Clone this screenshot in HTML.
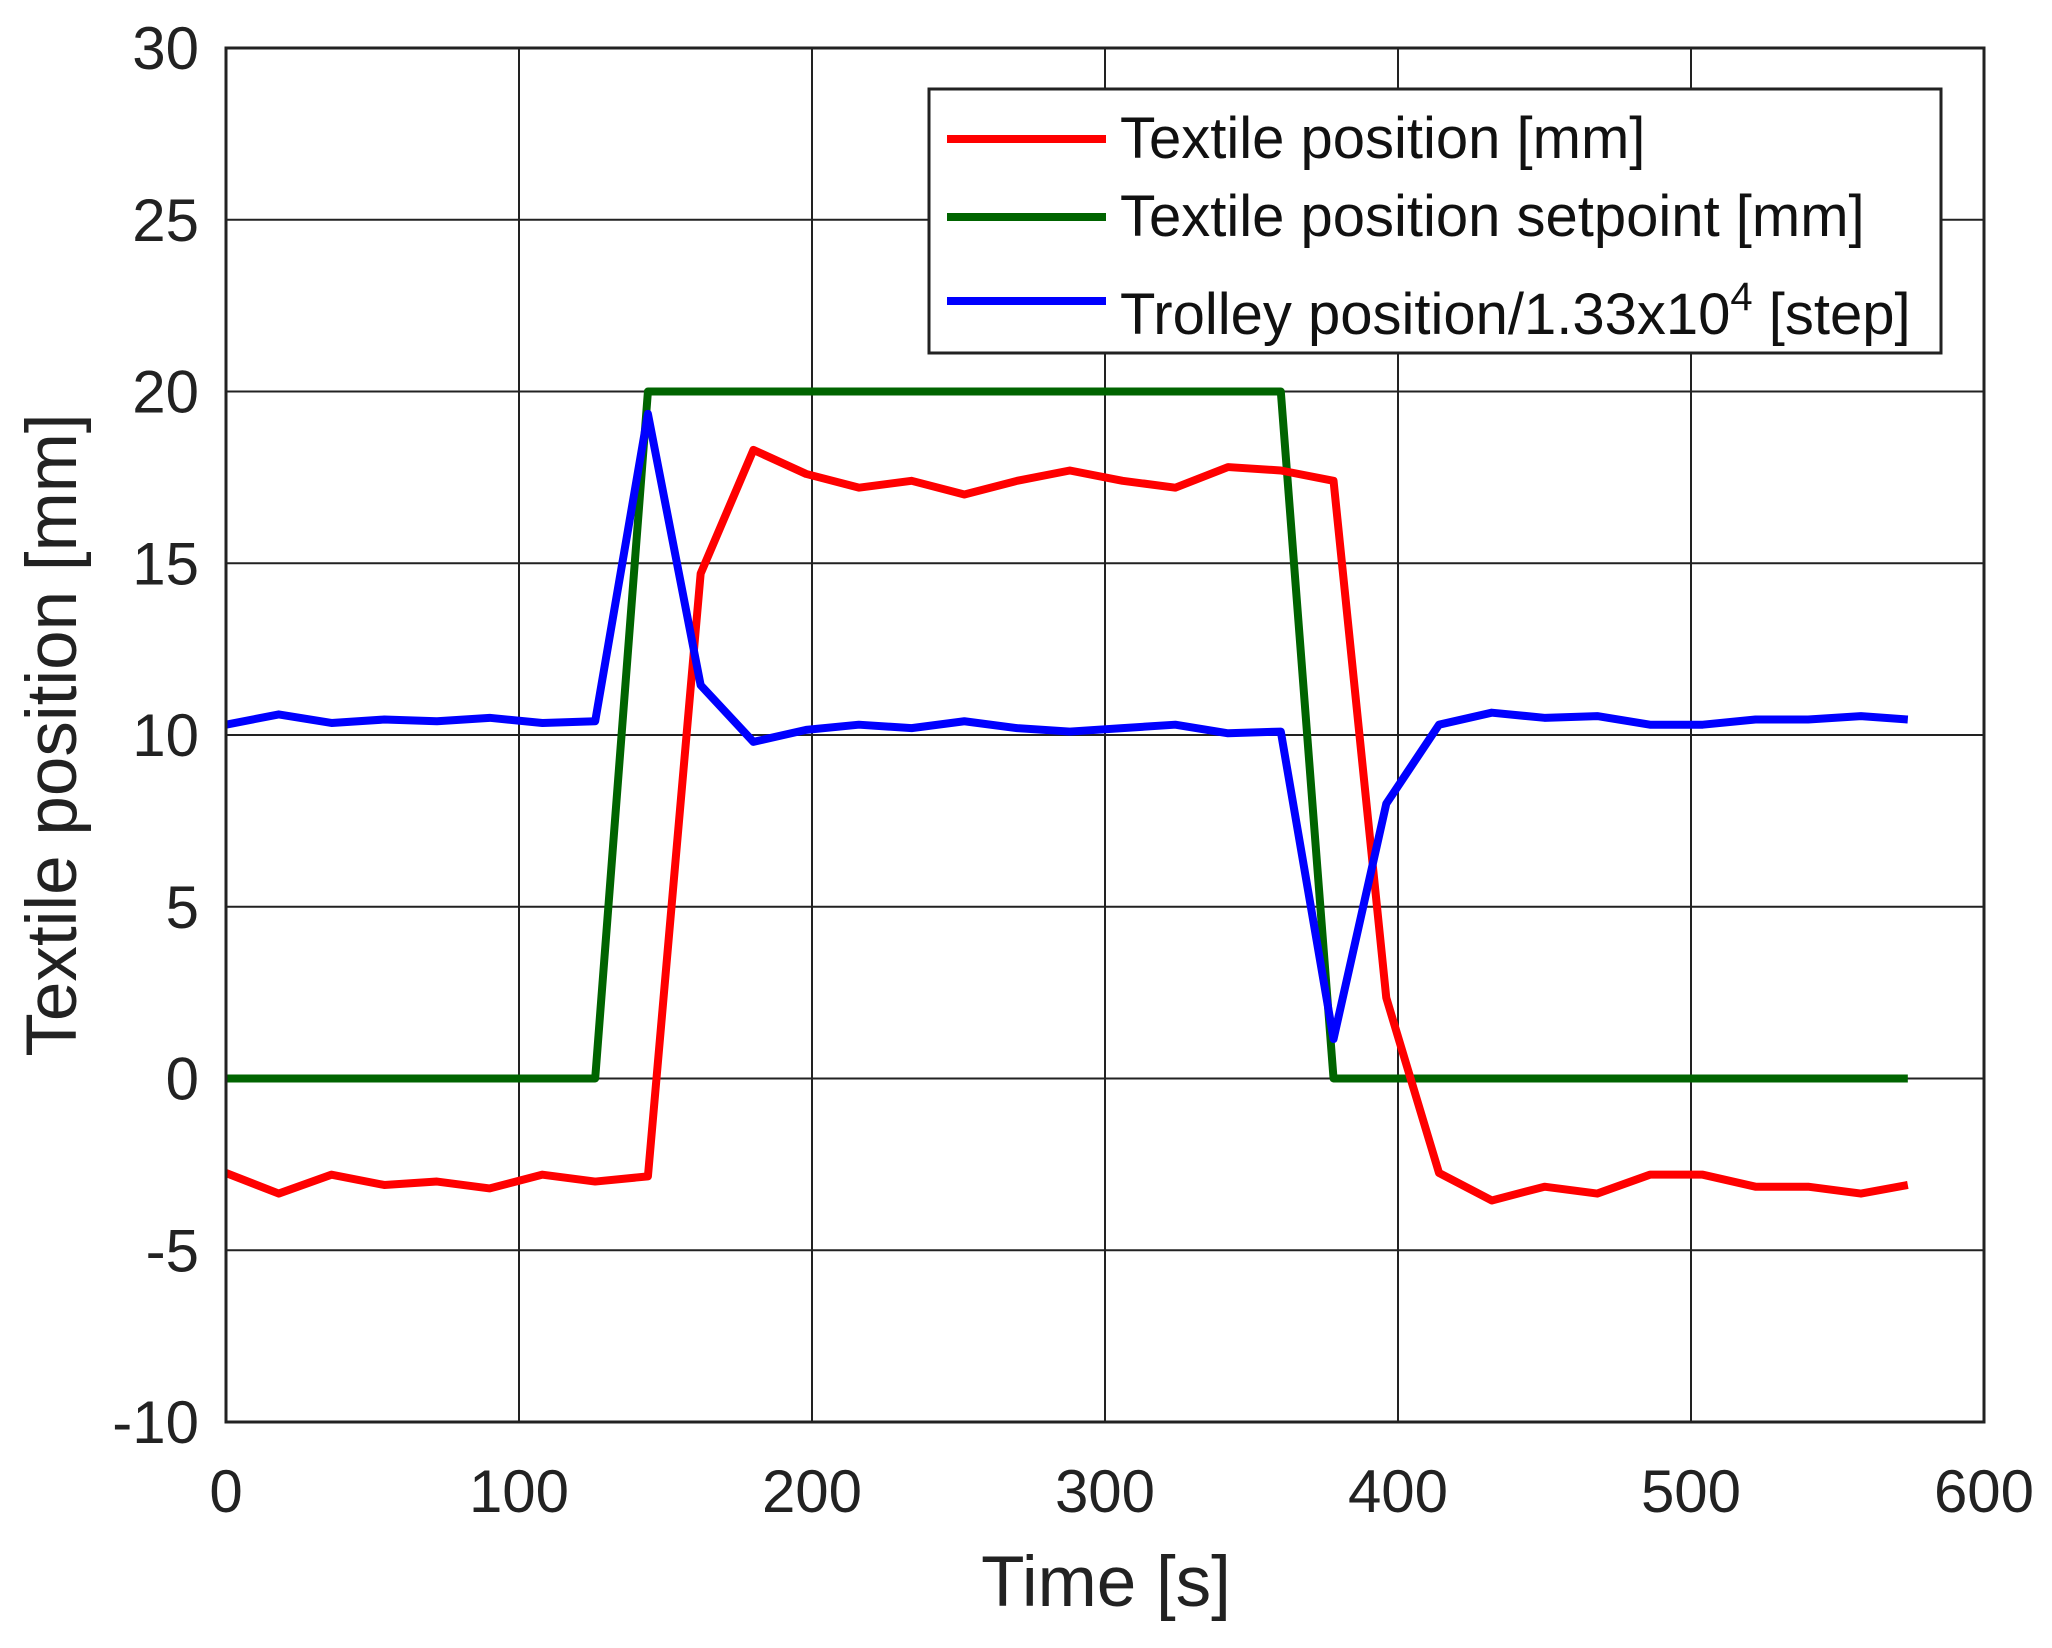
<!DOCTYPE html>
<html><head><meta charset="utf-8"><style>
html,body{margin:0;padding:0;background:#fff}
svg{display:block;font-family:"Liberation Sans",sans-serif}
</style></head><body>
<svg id="chart" width="2052" height="1648" viewBox="0 0 2052 1648" xmlns="http://www.w3.org/2000/svg">
<g id="grid"></g>
<g id="series"></g>
<rect x="226" y="48" width="1758" height="1374" fill="none" stroke="#222" stroke-width="3"/>
<g id="ticks" font-size="60" fill="#222"></g>
<text x="1106" y="1606" font-size="71" text-anchor="middle" fill="#222">Time [s]</text>
<text transform="translate(76,735) rotate(-90)" font-size="71" text-anchor="middle" fill="#222">Textile position [mm]</text>
<g>
<rect x="929" y="89" width="1012" height="264" fill="#fff" stroke="#222" stroke-width="3"/>
<line x1="947" y1="139" x2="1106" y2="139" stroke="#ff0000" stroke-width="8"/>
<text x="1120" y="158" font-size="58" fill="#111">Textile position [mm]</text>
<line x1="947" y1="217" x2="1106" y2="217" stroke="#006400" stroke-width="8"/>
<text x="1120" y="236" font-size="58" fill="#111">Textile position setpoint [mm]</text>
<line x1="947" y1="301" x2="1106" y2="301" stroke="#0000ff" stroke-width="8"/>
<text x="1120" y="334" font-size="58" fill="#111">Trolley position/1.33x10<tspan dy="-24" font-size="40">4</tspan><tspan dy="24"> [step]</tspan></text>
</g>
</svg>
<script>
const times=[0,18,36,54,72,90,108,126,144,162,180,198,216,234,252,270,288,306,324,342,360,378,396,414,432,450,468,486,504,522,540,558,574];
const textilePos=[-2.75,-3.35,-2.8,-3.1,-3.0,-3.2,-2.8,-3.0,-2.85,14.7,18.3,17.6,17.2,17.4,17.0,17.4,17.7,17.4,17.2,17.8,17.7,17.4,2.35,-2.75,-3.55,-3.15,-3.35,-2.8,-2.8,-3.15,-3.15,-3.35,-3.1];
const setpoint=[0,0,0,0,0,0,0,0,20,20,20,20,20,20,20,20,20,20,20,20,20,0,0,0,0,0,0,0,0,0,0,0,0];
const trolley=[10.3,10.6,10.35,10.45,10.4,10.5,10.35,10.4,19.35,11.45,9.8,10.15,10.3,10.2,10.4,10.2,10.1,10.2,10.3,10.05,10.1,1.15,8.0,10.3,10.65,10.5,10.55,10.3,10.3,10.45,10.45,10.55,10.45];
const xTicks=[0,100,200,300,400,500,600];
const yTicks=[-10,-5,0,5,10,15,20,25,30];
const NS="http://www.w3.org/2000/svg";
const X0=226,X1=1984,Y0=1422,Y1=48;
function sx(t){return X0+(t-0)/600*(X1-X0);}
function sy(v){return Y0-(v+10)/40*(Y0-Y1);}
const grid=document.getElementById('grid'),ticks=document.getElementById('ticks'),series=document.getElementById('series');
xTicks.forEach(t=>{
  const l=document.createElementNS(NS,'line');
  
  
  l.setAttribute('x1',sx(t));l.setAttribute('x2',sx(t));l.setAttribute('y1',Y1);l.setAttribute('y2',Y0);
  l.setAttribute('stroke','#222');l.setAttribute('stroke-width','2');grid.appendChild(l);
  const tx=document.createElementNS(NS,'text');
  
  
  tx.setAttribute('x',sx(t));tx.setAttribute('y',1512);tx.setAttribute('text-anchor','middle');tx.textContent=t;ticks.appendChild(tx);
});
yTicks.forEach(v=>{
  const l=document.createElementNS(NS,'line');
  
  
  l.setAttribute('x1',X0);l.setAttribute('x2',X1);l.setAttribute('y1',sy(v));l.setAttribute('y2',sy(v));
  l.setAttribute('stroke','#222');l.setAttribute('stroke-width','2');grid.appendChild(l);
  const tx=document.createElementNS(NS,'text');
  
  
  tx.setAttribute('x',199);tx.setAttribute('y',sy(v)+21);tx.setAttribute('text-anchor','end');tx.textContent=v;ticks.appendChild(tx);
});
function line(vals,color,name){
  const p=document.createElementNS(NS,'polyline');
  
  
  p.setAttribute('points',vals.map((v,i)=>sx(times[i])+','+sy(v)).join(' '));
  p.setAttribute('fill','none');p.setAttribute('stroke',color);p.setAttribute('stroke-width','8');p.setAttribute('stroke-linejoin','round');
  series.appendChild(p);
}
line(setpoint,'#006400','setpoint-line');
line(textilePos,'#ff0000','textile-position-line');
line(trolley,'#0000ff','trolley-position-line');
</script>
</body></html>
